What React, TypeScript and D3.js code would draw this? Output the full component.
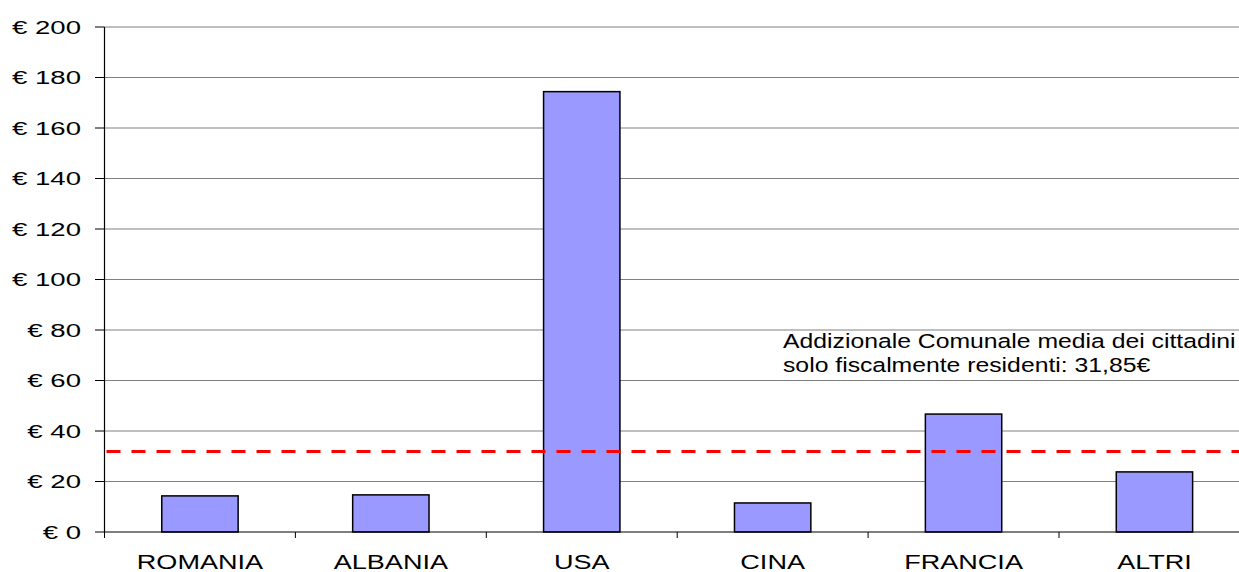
import React from "react";
import * as d3 from "d3";

const categories = ["ROMANIA", "ALBANIA", "USA", "CINA", "FRANCIA", "ALTRI"];
const values = [14.3, 14.7, 174.4, 11.5, 46.7, 23.8];
const yTicks = [0, 20, 40, 60, 80, 100, 120, 140, 160, 180, 200];
const averageValue = 31.85;
const annotationLines = [
  "Addizionale Comunale media dei cittadini",
  "solo fiscalmente residenti: 31,85€",
];

const W = 1239;
const H = 572;
const FONT = "'Liberation Sans', Arial, sans-serif";

export default function App() {
  const x0 = 104.5;
  const x1 = 104.5 + 6 * 190.9;
  const yTop = 27;
  const yBottom = 532;

  const x = d3.scaleBand<string>().domain(categories).range([x0, x1]).paddingInner(0.6).paddingOuter(0.3);
  const xb = d3.scaleBand<string>().domain(categories).range([x0, x1]).padding(0);
  const y = d3.scaleLinear().domain([0, 200]).range([yBottom, yTop]);

  return (
    <svg
      width={W}
      height={H}
      style={{ position: "absolute", left: 0, top: 0, background: "#fff" }}
      fontFamily={FONT}
    >
      {yTicks.map((t) => (
        <g key={t}>
          {t > 0 && (
            <line x1={x0} x2={x1} y1={y(t)} y2={y(t)} stroke="#808080" strokeWidth={1.2} />
          )}
          <line x1={95} x2={x0} y1={y(t)} y2={y(t)} stroke="#000" strokeWidth={1} />
          <text
            transform={`translate(81,${y(t) + 6.6}) scale(1.49,1)`}
            textAnchor="end"
            fontSize={18.5}
            fill="#000"
          >
            {"€ " + t}
          </text>
        </g>
      ))}
      {categories.map((c, i) => (
        <rect
          key={c}
          x={x(c)!}
          y={y(values[i])}
          width={x.bandwidth()}
          height={y(0) - y(values[i])}
          fill="#9999FF"
          stroke="#000"
          strokeWidth={1.5}
        />
      ))}
      <line x1={x0} x2={x0} y1={yTop} y2={yBottom} stroke="#000" strokeWidth={1.2} />
      <line x1={x0} x2={x1} y1={yBottom} y2={yBottom} stroke="#000" strokeWidth={1.2} />
      {categories.map((c) => (
        <line
          key={"t" + c}
          x1={xb(c)!}
          x2={xb(c)!}
          y1={yBottom}
          y2={yBottom + 6}
          stroke="#000"
          strokeWidth={1}
        />
      ))}
      <line x1={x1} x2={x1} y1={yBottom} y2={yBottom + 6} stroke="#000" />
      {categories.map((c) => (
        <text
          key={"l" + c}
          transform={`translate(${xb(c)! + xb.bandwidth() / 2},569) scale(1.32,1)`}
          textAnchor="middle"
          fontSize={20.5}
          fill="#000"
        >
          {c}
        </text>
      ))}
      <line
        x1={x0 + 2}
        x2={x1}
        y1={y(averageValue)}
        y2={y(averageValue)}
        stroke="#FF0000"
        strokeWidth={3}
        strokeDasharray="14 11"
      />
      {annotationLines.map((l, i) => (
        <text
          key={i}
          transform={`translate(783,${348 + i * 23.5}) scale(1.27,1)`}
          fontSize={19.5}
          fill="#000"
        >
          {l}
        </text>
      ))}
    </svg>
  );
}
